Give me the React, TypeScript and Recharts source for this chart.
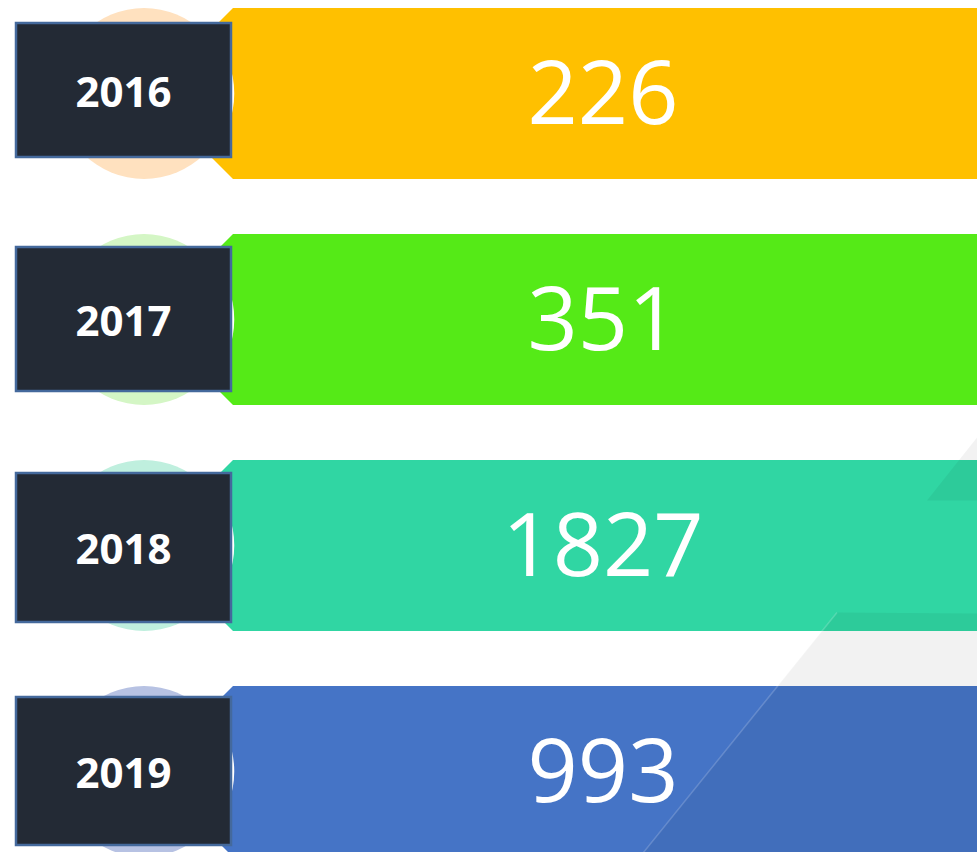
import { BarChart, Bar, XAxis, YAxis } from "recharts";

const years = ["2016", "2017", "2018", "2019"];
const values = [226, 351, 1827, 993];

const bannerColors = ["#FFC000", "#55EA17", "#30D6A3", "#4574C6"];
const circleColors = ["#FFE1BF", "#D4F6C5", "#BFEFDE", "#B7C2E3"];

const data = years.map((year, i) => ({ year, value: values[i] }));

const W = 977;
const H = 852;
const BAND = 226;
const SHIFT = 20.5; // chart is shifted up so the first banner starts at y=7
// inset of the dark year box from the banner top / bottom
const boxInsets = [
  [15, 22],
  [13, 14],
  [13, 9],
  [11, 12],
];

// faint diagonal panels in the background, picture coordinates
function Overlays() {
  const s = (x: number, y: number) => `${x},${y + SHIFT}`;
  return (
    <g>
      <polygon
        points={[s(837, 612), s(977, 613), s(977, 860), s(637, 860)].join(" ")}
        fill="rgba(0,0,0,0.05)"
      />
      <line x1={837} y1={612 + SHIFT} x2={637} y2={860 + SHIFT} stroke="rgba(255,255,255,0.18)" strokeWidth={1.5} />
      <polygon
        points={[s(927, 500), s(977, 500), s(977, 437)].join(" ")}
        fill="rgba(0,0,0,0.05)"
      />
    </g>
  );
}

function Banner(props: any) {
  const { y, height, index, payload, background } = props;
  const right = background ? background.x + background.width : W;
  const top = y;
  const bottom = y + height;
  const cy = y + height / 2;
  const left = 208;
  const c = 25;
  const pts = `${left + c},${top} ${right},${top} ${right},${bottom} ${left + c},${bottom} ${left},${bottom - c} ${left},${top + c}`;
  const [bt, bb] = boxInsets[index] ?? [13, 12];
  const boxTop = top + bt;
  const boxBottom = bottom - bb;
  const boxMid = (boxTop + boxBottom) / 2;
  return (
    <g>
      <circle cx={144} cy={cy} r={height / 2} fill={circleColors[index]} />
      <polygon points={pts} fill={bannerColors[index]} />
      {/* the last row is drawn last, so the panels sit on top of every banner */}
      {index === values.length - 1 && <Overlays />}
      <circle cx={144} cy={cy} r={89} fill="none" stroke="#ffffff" strokeWidth={2.5} />
      <rect
        x={16}
        y={boxTop}
        width={215}
        height={boxBottom - boxTop}
        fill="#232A35"
        stroke="#44699C"
        strokeWidth={2.5}
      />
      <text
        x={123.5}
        y={boxMid}
        textAnchor="middle"
        dominantBaseline="central"
        fill="#ffffff"
        fontFamily="'Open Sans', sans-serif"
        fontWeight={700}
        fontSize={42}
      >
        {payload.year}
      </text>
      <text
        x={603}
        y={cy - 4}
        textAnchor="middle"
        dominantBaseline="central"
        fill="#ffffff"
        fontFamily="'Open Sans', sans-serif"
        fontSize={88}
      >
        {payload.value}
      </text>
    </g>
  );
}

export default function App() {
  return (
    <div
      style={{
        position: "absolute",
        left: 0,
        top: 0,
        width: W,
        height: H,
        overflow: "hidden",
        background: "#ffffff",
      }}
    >
      <div style={{ position: "relative", top: -SHIFT }}>
        <BarChart
          width={W}
          height={BAND * 4}
          data={data}
          layout="vertical"
          margin={{ top: 0, right: 0, bottom: 0, left: 0 }}
        >
          <XAxis type="number" hide domain={[0, "dataMax"]} />
          <YAxis type="category" dataKey="year" hide />
          <Bar dataKey="value" barSize={171} shape={Banner} isAnimationActive={false} />
        </BarChart>
      </div>
    </div>
  );
}
